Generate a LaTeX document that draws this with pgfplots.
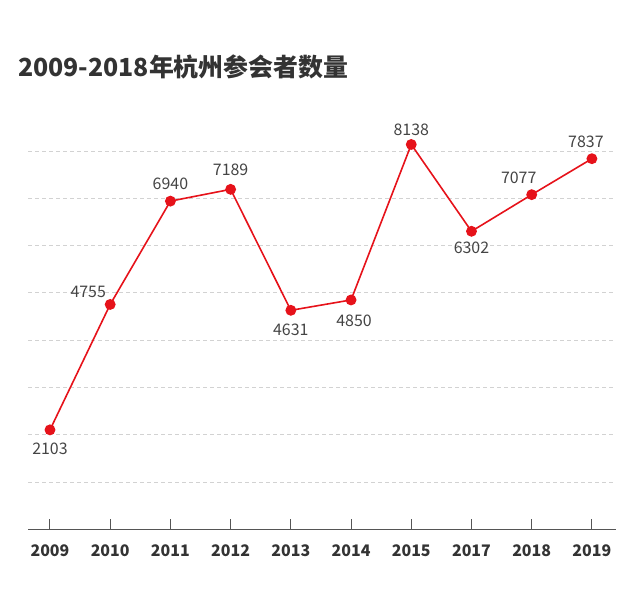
\documentclass[border=0pt]{standalone}
\usepackage{fontspec}
\setmainfont{Noto Sans CJK SC}
\usepackage{pgfplots}
\usepackage{pgfplotstable}
\pgfplotsset{compat=1.18}

\definecolor{lineRed}{HTML}{E6121A}
\definecolor{axisGrey}{HTML}{555555}
\definecolor{gridGrey}{HTML}{D2D2D2}
\definecolor{textGrey}{HTML}{444444}
\definecolor{titleGrey}{HTML}{333333}

% x = position, y = value, dx/dy = label offset (bp)
\pgfplotstableread{
x y dx dy
0 2103 0 -19
1 4755 -22 13
2 6940 0 17
3 7189 0 20
4 4631 0 -20
5 4850 3 -21
6 8138 0 15
7 6302 0 -17
8 7077 -13 17
9 7837 -6 17
}\attendees

\begin{document}
\begin{tikzpicture}
\useasboundingbox (0,0) rectangle (640bp,-610bp);
\node[anchor=west, font=\fontsize{25}{30}\selectfont\bfseries, text=titleGrey, inner sep=0pt]
  at (18bp,-67bp) {2009-2018年杭州参会者数量};
\begin{axis}[
    at={(28bp,-529.3bp)}, anchor=south west,
    scale only axis,
    width=588bp, height=419.3bp,
    xmin=-0.365, xmax=9.4,
    ymin=0, ymax=8867,
    axis x line=bottom, axis y line=left,
    x axis line style={-, draw=axisGrey, line width=1.4bp},
    y axis line style={draw=none},
    xtick={0,...,9},
    xticklabels={2009,2010,2011,2012,2013,2014,2015,2017,2018,2019},
    xtick align=inside,
    major tick length=10bp,
    xtick style={draw=axisGrey, line width=1bp},
    xticklabel style={font=\fontsize{16}{18}\selectfont\bfseries, text=titleGrey, yshift=-12bp},
    ytick={1000,2000,...,8000},
    yticklabels={},
    ymajorgrids=true,
    grid style={draw=gridGrey, line width=0.9bp, dash pattern=on 4bp off 3bp},
    ytick style={draw=none},
    clip=false,
    /pgf/number format/.cd, fixed, precision=0, 1000 sep={}, assume math mode=true,
]
\addplot[
    draw=lineRed, line width=1.6bp,
    mark=*, mark size=4.6bp, mark options={fill=lineRed, draw=none},
    point meta=y,
    visualization depends on={\thisrow{dx} \as \dx},
    visualization depends on={\thisrow{dy} \as \dy},
    nodes near coords={\pgfmathprintnumber{\pgfplotspointmeta}},
    every node near coord/.style={anchor=center, xshift=\dx bp, yshift=\dy bp,
        font=\fontsize{16}{18}\selectfont, text=textGrey, inner sep=0pt},
] table[x=x, y=y] {\attendees};
\end{axis}
\end{tikzpicture}
\end{document}
